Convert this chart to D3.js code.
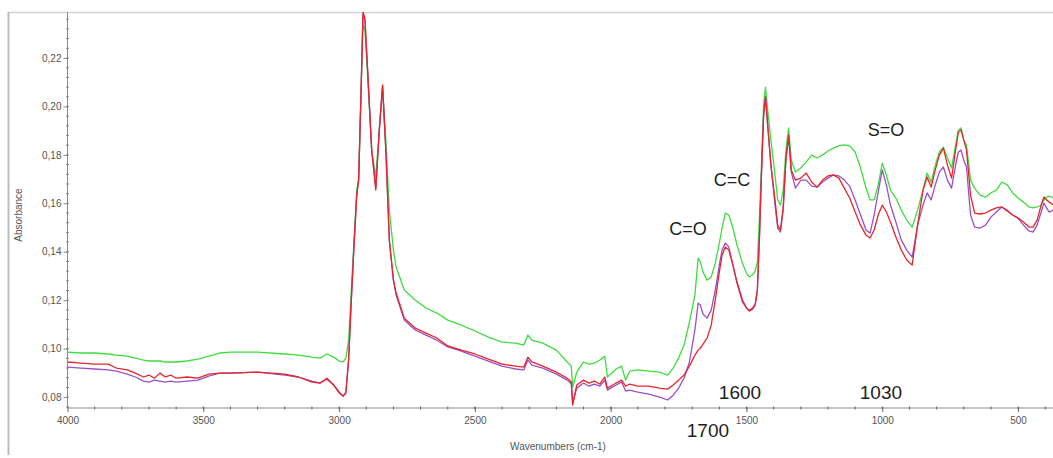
<!DOCTYPE html>
<html>
<head>
<meta charset="utf-8">
<script src="https://cdn.jsdelivr.net/npm/d3@7"></script>
<style>
  html, body { margin: 0; padding: 0; background: #fff; }
  svg { display: block; }
  text { font-family: "Liberation Sans", Arial, sans-serif; }
</style>
</head>
<body>
<svg id="chart" width="1053" height="458"></svg>
<script>
// ---- data ----
const wavenumbers = [4000,3950,3900,3850,3820,3780,3750,3720,3700,3680,3660,3640,3620,3600,3560,3520,3480,3440,3400,3300,3200,3150,3100,3070,3045,3020,3000,2985,2975,2965,2955,2945,2935,2928,2920,2912,2905,2895,2880,2865,2852,2840,2828,2815,2800,2790,2760,2720,2680,2640,2600,2550,2500,2450,2400,2350,2320,2305,2290,2250,2200,2160,2145,2140,2125,2100,2080,2060,2040,2022,2012,2000,1980,1960,1945,1930,1900,1860,1820,1790,1770,1750,1730,1710,1690,1678,1670,1660,1645,1630,1615,1600,1590,1578,1565,1550,1535,1515,1500,1490,1478,1468,1460,1452,1445,1437,1430,1422,1410,1395,1385,1375,1365,1355,1345,1335,1320,1300,1280,1260,1240,1220,1200,1180,1160,1140,1120,1100,1080,1060,1045,1030,1015,1000,985,970,950,930,910,890,870,850,835,820,805,790,775,760,745,730,720,710,700,690,675,660,640,620,600,580,560,540,520,500,480,460,445,430,415,405,395,385,370];

const greenAbs = [0.0986,0.0982,0.0982,0.0978,0.0973,0.0969,0.0961,0.0953,0.0949,0.0949,0.0949,0.0945,0.0945,0.0945,0.0949,0.0957,0.0969,0.0982,0.0986,0.0986,0.0978,0.0973,0.0965,0.0961,0.0978,0.0965,0.0949,0.0945,0.0961,0.1035,0.1242,0.1448,0.1655,0.1704,0.2027,0.2336,0.2316,0.2130,0.1820,0.1709,0.1903,0.2076,0.1861,0.1572,0.1407,0.1337,0.1242,0.1201,0.1168,0.1147,0.1118,0.1097,0.1073,0.1048,0.1027,0.1023,0.1015,0.1056,0.1035,0.1023,0.0994,0.0945,0.0928,0.0841,0.0903,0.0945,0.0936,0.0940,0.0953,0.0969,0.0883,0.0895,0.0916,0.0928,0.0870,0.0907,0.0912,0.0907,0.0903,0.0891,0.0920,0.0961,0.1015,0.1110,0.1221,0.1374,0.1358,0.1316,0.1283,0.1296,0.1353,0.1436,0.1498,0.1560,0.1552,0.1498,0.1428,0.1353,0.1312,0.1296,0.1304,0.1320,0.1358,0.1552,0.1758,0.2006,0.2080,0.1985,0.1861,0.1717,0.1614,0.1593,0.1655,0.1820,0.1911,0.1779,0.1729,0.1746,0.1771,0.1799,0.1787,0.1799,0.1816,0.1828,0.1837,0.1841,0.1837,0.1812,0.1746,0.1663,0.1614,0.1614,0.1676,0.1766,0.1717,0.1655,0.1622,0.1572,0.1531,0.1502,0.1572,0.1655,0.1725,0.1688,0.1758,0.1812,0.1832,0.1787,0.1746,0.1841,0.1903,0.1911,0.1861,0.1841,0.1696,0.1663,0.1634,0.1626,0.1643,0.1655,0.1688,0.1676,0.1643,0.1622,0.1605,0.1585,0.1581,0.1585,0.1593,0.1614,0.1626,0.1630,0.1622];

const purpleAbs = [0.0924,0.0920,0.0916,0.0912,0.0907,0.0895,0.0883,0.0866,0.0862,0.0870,0.0866,0.0862,0.0866,0.0862,0.0866,0.0870,0.0887,0.0899,0.0899,0.0903,0.0891,0.0883,0.0866,0.0858,0.0874,0.0850,0.0817,0.0804,0.0821,0.0953,0.1201,0.1428,0.1634,0.1696,0.2027,0.2378,0.2357,0.2151,0.1820,0.1663,0.1903,0.2084,0.1820,0.1448,0.1283,0.1221,0.1118,0.1077,0.1056,0.1035,0.1007,0.0990,0.0969,0.0949,0.0928,0.0916,0.0912,0.0953,0.0932,0.0920,0.0895,0.0870,0.0854,0.0775,0.0837,0.0858,0.0845,0.0854,0.0845,0.0870,0.0829,0.0837,0.0850,0.0862,0.0825,0.0829,0.0821,0.0812,0.0800,0.0788,0.0808,0.0837,0.0878,0.0945,0.1077,0.1188,0.1180,0.1143,0.1126,0.1159,0.1242,0.1345,0.1407,0.1436,0.1420,0.1345,0.1271,0.1192,0.1168,0.1159,0.1168,0.1184,0.1242,0.1469,0.1717,0.1965,0.2039,0.1923,0.1758,0.1593,0.1498,0.1481,0.1572,0.1779,0.1874,0.1729,0.1663,0.1696,0.1696,0.1671,0.1667,0.1688,0.1704,0.1717,0.1713,0.1696,0.1671,0.1614,0.1552,0.1490,0.1477,0.1552,0.1647,0.1738,0.1676,0.1593,0.1523,0.1448,0.1407,0.1378,0.1510,0.1593,0.1643,0.1614,0.1676,0.1729,0.1750,0.1696,0.1663,0.1758,0.1812,0.1820,0.1779,0.1750,0.1552,0.1502,0.1498,0.1510,0.1543,0.1564,0.1585,0.1572,0.1552,0.1539,0.1510,0.1486,0.1481,0.1510,0.1564,0.1601,0.1581,0.1564,0.1572];

const redAbs = [0.0945,0.0940,0.0936,0.0936,0.0920,0.0912,0.0899,0.0883,0.0891,0.0878,0.0899,0.0883,0.0891,0.0878,0.0883,0.0878,0.0895,0.0899,0.0899,0.0903,0.0895,0.0883,0.0862,0.0858,0.0878,0.0850,0.0821,0.0804,0.0817,0.0953,0.1201,0.1428,0.1634,0.1696,0.2027,0.2390,0.2365,0.2151,0.1820,0.1655,0.1903,0.2089,0.1820,0.1448,0.1283,0.1230,0.1126,0.1085,0.1064,0.1044,0.1011,0.0994,0.0978,0.0957,0.0936,0.0928,0.0924,0.0965,0.0945,0.0928,0.0903,0.0878,0.0862,0.0767,0.0850,0.0870,0.0858,0.0866,0.0854,0.0883,0.0837,0.0845,0.0858,0.0870,0.0845,0.0854,0.0845,0.0845,0.0837,0.0833,0.0850,0.0870,0.0891,0.0928,0.0973,0.0994,0.1002,0.1019,0.1044,0.1097,0.1201,0.1316,0.1386,0.1420,0.1407,0.1345,0.1275,0.1201,0.1168,0.1155,0.1163,0.1180,0.1242,0.1469,0.1717,0.1965,0.2039,0.1923,0.1758,0.1614,0.1510,0.1490,0.1581,0.1779,0.1882,0.1738,0.1696,0.1704,0.1725,0.1688,0.1667,0.1696,0.1713,0.1717,0.1704,0.1663,0.1622,0.1564,0.1510,0.1469,0.1457,0.1490,0.1552,0.1593,0.1564,0.1523,0.1461,0.1407,0.1366,0.1345,0.1510,0.1655,0.1709,0.1667,0.1738,0.1799,0.1828,0.1758,0.1704,0.1820,0.1894,0.1903,0.1861,0.1820,0.1634,0.1560,0.1556,0.1560,0.1572,0.1581,0.1585,0.1568,0.1552,0.1539,0.1523,0.1502,0.1502,0.1531,0.1593,0.1626,0.1614,0.1605,0.1593];

const yTickValues = [0.08, 0.10, 0.12, 0.14, 0.16, 0.18, 0.20, 0.22];
const xTickValues = [4000, 3500, 3000, 2500, 2000, 1500, 1000, 500];
const seriesNames = ["green", "purple", "red"];
const seriesColors = ["#3fdc3f", "#9b4fc6", "#e5262b"];

// ---- layout ----
const svg = d3.select("#chart");
const plot = { left: 67.5, right: 1053.4, top: 12, bottom: 408 };

const x = d3.scaleLinear().domain([4000, 370]).range([plot.left, plot.right]);
const y = d3.scaleLinear().domain([0.0755, 0.239]).range([plot.bottom, plot.top]);

// outer frame (top and left)
svg.append("line").attr("x1", 8).attr("x2", 1053).attr("y1", 12.5).attr("y2", 12.5)
  .attr("stroke", "#d4d4d4").attr("stroke-width", 1.5);
svg.append("line").attr("x1", 8.5).attr("x2", 8.5).attr("y1", 12).attr("y2", 455)
  .attr("stroke", "#bdbdbd").attr("stroke-width", 2);

// clip
svg.append("defs").append("clipPath").attr("id", "clip")
  .append("rect").attr("x", plot.left).attr("y", plot.top)
  .attr("width", plot.right - plot.left).attr("height", plot.bottom - plot.top);

// ---- axes ----
const axisColor = "#8a8a8a";
const labelColor = "#555";

// y axis
const yAxisG = svg.append("g").attr("transform", `translate(${plot.left},0)`);
yAxisG.append("line").attr("y1", plot.top).attr("y2", plot.bottom)
  .attr("stroke", axisColor).attr("stroke-width", 1);
const yMinor = d3.range(0.076, 0.2385, 0.004);
yAxisG.selectAll(".ymin").data(yMinor).join("line")
  .attr("x1", -1.5).attr("x2", 1.5)
  .attr("y1", d => y(d)).attr("y2", d => y(d))
  .attr("stroke", axisColor).attr("stroke-width", 1);
const yAxis = d3.axisLeft(y).tickValues(yTickValues).tickSize(4).tickPadding(2)
  .tickFormat(d => d3.format(".2f")(d).replace(".", ","));
const yAx = svg.append("g").attr("transform", `translate(${plot.left},0)`).call(yAxis);
yAx.select(".domain").remove();
yAx.selectAll(".tick line").attr("stroke", axisColor);
yAx.selectAll(".tick text").attr("fill", labelColor).style("font-size", "10px")
  .style("font-family", "'Liberation Sans', Arial, sans-serif");

// x axis
const xAxisG = svg.append("g").attr("transform", `translate(0,${plot.bottom})`);
xAxisG.append("line").attr("x1", plot.left).attr("x2", 1053)
  .attr("stroke", axisColor).attr("stroke-width", 1.2);
const xMinor = d3.range(3900, 370, -100);
xAxisG.selectAll(".xmin").data(xMinor).join("line")
  .attr("x1", d => x(d)).attr("x2", d => x(d)).attr("y1", -1.5).attr("y2", 1.5)
  .attr("stroke", "#666").attr("stroke-width", 1);
const xAxis = d3.axisBottom(x).tickValues(xTickValues).tickSize(5).tickPadding(5)
  .tickFormat(d3.format("d"));
const xAx = svg.append("g").attr("transform", `translate(0,${plot.bottom - 1})`).call(xAxis);
xAx.select(".domain").remove();
xAx.selectAll(".tick line").attr("stroke", "#666");
xAx.selectAll(".tick text").attr("fill", labelColor).style("font-size", "10px")
  .style("font-family", "'Liberation Sans', Arial, sans-serif");

// axis titles
svg.append("text").attr("transform", `translate(22,${(plot.top + plot.bottom) / 2 + 5}) rotate(-90)`)
  .attr("text-anchor", "middle").attr("fill", labelColor).style("font-size", "10px")
  .text("Absorbance");
svg.append("text").attr("x", 558).attr("y", 450)
  .attr("text-anchor", "middle").attr("fill", labelColor).style("font-size", "10px")
  .text("Wavenumbers (cm-1)");

// ---- spectra ----
const seriesData = [greenAbs, purpleAbs, redAbs];
const line = d3.line().x(d => x(d[0])).y(d => y(d[1]));
const lines = svg.append("g").attr("clip-path", "url(#clip)");
seriesData.forEach((vals, i) => {
  const pts = wavenumbers.map((w, j) => [w, vals[j]]);
  lines.append("path").datum(pts)
    .attr("class", "series-" + seriesNames[i])
    .attr("fill", "none").attr("stroke", seriesColors[i])
    .attr("stroke-width", 1.3).attr("stroke-linejoin", "round")
    .attr("d", line);
});

// ---- annotations ----
const annotationTexts = ["C=O", "C=C", "S=O", "1600", "1030", "1700"];
const annotationWave = [1715, 1553, 986, 1524, 1005, 1642];
const annotationAbs = [0.1470, 0.1672, 0.1879, 0.0792, 0.0792, 0.0635];
const annotationSize = [18, 18, 18, 19, 19, 19];
annotationTexts.forEach((t, i) => {
  svg.append("text")
    .attr("x", x(annotationWave[i])).attr("y", y(annotationAbs[i]))
    .attr("text-anchor", "middle").attr("fill", "#1e1e1e")
    .style("font-size", annotationSize[i] + "px")
    .text(t);
});
</script>
</body>
</html>
